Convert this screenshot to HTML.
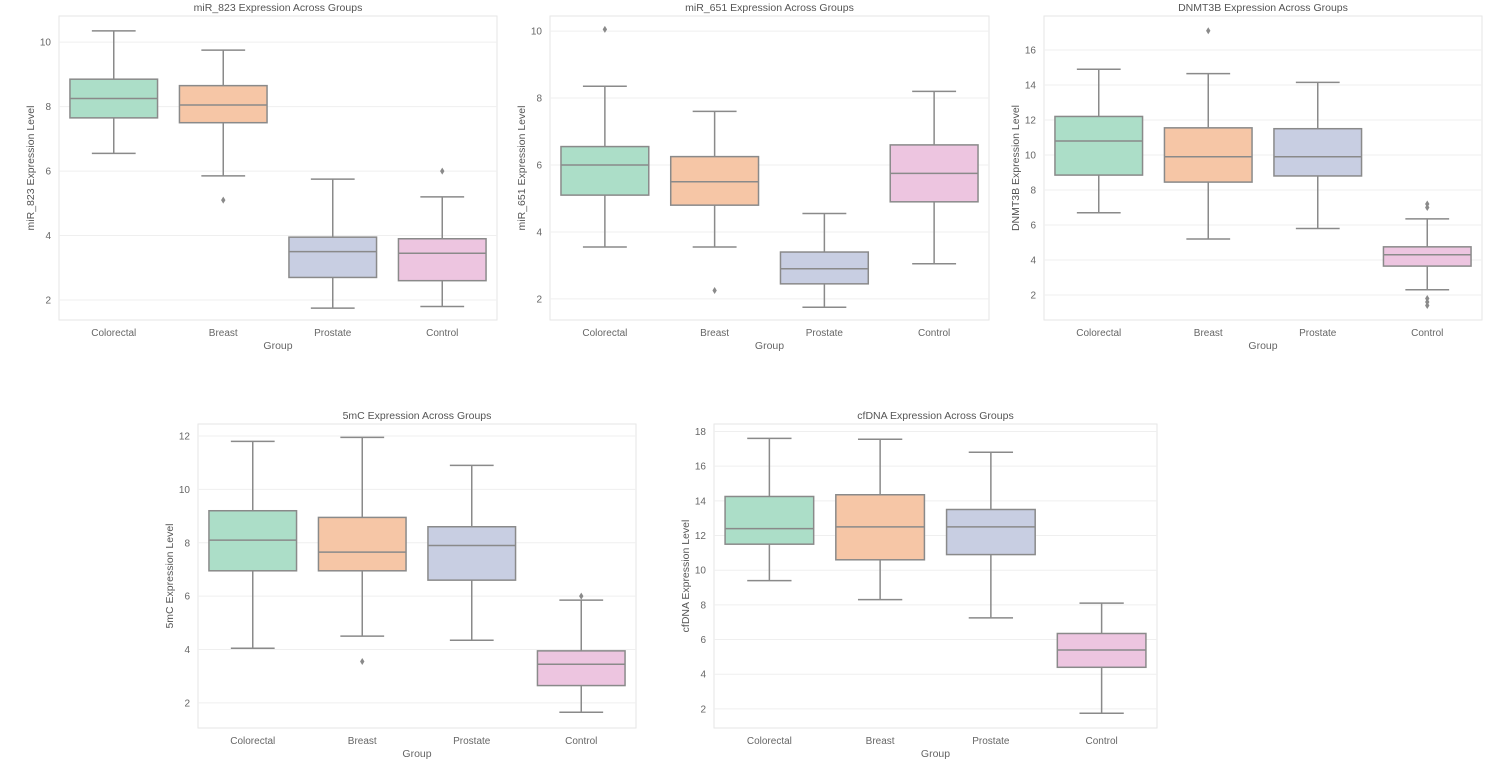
<!DOCTYPE html>
<html><head><meta charset="utf-8">
<style>
html,body{margin:0;padding:0;background:#fff;}
svg{display:block;font-family:"Liberation Sans",sans-serif;}
</style></head>
<body>
<svg id="chart" width="1489" height="777" viewBox="0 0 1489 777"></svg>
<script>
const categories = ["Colorectal","Breast","Prostate","Control"];
const colors = ["#acdec8","#f6c6a6","#c8cee2","#edc5e0"];
// [lowWhisker, q1, median, q3, highWhisker]
const mir823Stats = [[6.55,7.65,8.25,8.85,10.35],[5.85,7.5,8.05,8.65,9.75],[1.75,2.7,3.5,3.95,5.75],[1.8,2.6,3.45,3.9,5.2]];
const mir823Outliers = [[],[5.1],[],[6.0]];
const mir651Stats = [[3.55,5.1,6.0,6.55,8.35],[3.55,4.8,5.5,6.25,7.6],[1.75,2.45,2.9,3.4,4.55],[3.05,4.9,5.75,6.6,8.2]];
const mir651Outliers = [[10.05],[2.25],[],[]];
const dnmt3bStats = [[6.7,8.85,10.8,12.2,14.9],[5.2,8.45,9.9,11.55,14.65],[5.8,8.8,9.9,11.5,14.15],[2.3,3.65,4.3,4.75,6.35]];
const dnmt3bOutliers = [[],[17.1],[],[7.0,7.2,1.4,1.6,1.8]];
const mc5Stats = [[4.05,6.95,8.1,9.2,11.8],[4.5,6.95,7.65,8.95,11.95],[4.35,6.6,7.9,8.6,10.9],[1.65,2.65,3.45,3.95,5.85]];
const mc5Outliers = [[],[3.55],[],[6.0]];
const cfdnaStats = [[9.4,11.5,12.4,14.25,17.6],[8.3,10.6,12.5,14.35,17.55],[7.25,10.9,12.5,13.5,16.8],[1.75,4.4,5.4,6.35,8.1]];
const cfdnaOutliers = [[],[],[],[]];
const mir823Ticks = [2,4,6,8,10];
const mir651Ticks = [2,4,6,8,10];
const dnmt3bTicks = [2,4,6,8,10,12,14,16];
const mc5Ticks = [2,4,6,8,10,12];
const cfdnaTicks = [2,4,6,8,10,12,14,16,18];

const panels = [
 {id:"mir823",title:"miR_823 Expression Across Groups",ylab:"miR_823 Expression Level",x0:59,x1:497,y0:16,y1:320,dom:[1.38,10.81],stats:mir823Stats,out:mir823Outliers,ticks:mir823Ticks},
 {id:"mir651",title:"miR_651 Expression Across Groups",ylab:"miR_651 Expression Level",x0:550,x1:989,y0:16,y1:320,dom:[1.37,10.45],stats:mir651Stats,out:mir651Outliers,ticks:mir651Ticks},
 {id:"dnmt3b",title:"DNMT3B Expression Across Groups",ylab:"DNMT3B Expression Level",x0:1044,x1:1482,y0:16,y1:320,dom:[0.57,17.94],stats:dnmt3bStats,out:dnmt3bOutliers,ticks:dnmt3bTicks},
 {id:"5mc",title:"5mC Expression Across Groups",ylab:"5mC Expression Level",x0:198,x1:636,y0:424,y1:728,dom:[1.06,12.45],stats:mc5Stats,out:mc5Outliers,ticks:mc5Ticks},
 {id:"cfdna",title:"cfDNA Expression Across Groups",ylab:"cfDNA Expression Level",x0:714,x1:1157,y0:424,y1:728,dom:[0.9,18.43],stats:cfdnaStats,out:cfdnaOutliers,ticks:cfdnaTicks}
];
const NS="http://www.w3.org/2000/svg";
const svg=document.getElementById("chart");
function mk(tag,attrs,parent,text){const e=document.createElementNS(NS,tag);for(const k in attrs)e.setAttribute(k,attrs[k]);if(text!==undefined)e.textContent=text;(parent||svg).appendChild(e);return e;}
panels.forEach(p=>{
  const g=mk("g",{});
  
  
  const y=v=>p.y1-(v-p.dom[0])/(p.dom[1]-p.dom[0])*(p.y1-p.y0);
  const bw=(p.x1-p.x0)/categories.length;
  const xc=i=>p.x0+bw*(i+0.5);
  const frame=mk("rect",{x:p.x0,y:p.y0,width:p.x1-p.x0,height:p.y1-p.y0,fill:"#fff",stroke:"#e6e6e6","stroke-width":1},g);
  
  
  p.ticks.forEach(t=>{
    const gl=mk("line",{x1:p.x0,x2:p.x1,y1:y(t),y2:y(t),stroke:"#efefef","stroke-width":1},g);
    
    
    const tl=mk("text",{x:p.x0-8,y:y(t)+3.5,"text-anchor":"end","font-size":10,fill:"#666"},g,String(t));
    
    
  });
  categories.forEach((c,i)=>{
    const s=p.stats[i],cx=xc(i),w=bw*0.8,cap=bw*0.4;
    const bg=mk("g",{},g);
    
    
    const ln={stroke:"#8a8a8a","stroke-width":1.5};
    mk("line",Object.assign({x1:cx,x2:cx,y1:y(s[0]),y2:y(s[1])},ln),bg);
    mk("line",Object.assign({x1:cx,x2:cx,y1:y(s[3]),y2:y(s[4])},ln),bg);
    mk("line",Object.assign({x1:cx-cap/2,x2:cx+cap/2,y1:y(s[0]),y2:y(s[0])},ln),bg);
    mk("line",Object.assign({x1:cx-cap/2,x2:cx+cap/2,y1:y(s[4]),y2:y(s[4])},ln),bg);
    mk("rect",Object.assign({x:cx-w/2,y:y(s[3]),width:w,height:y(s[1])-y(s[3]),fill:colors[i]},ln),bg);
    mk("line",Object.assign({x1:cx-w/2,x2:cx+w/2,y1:y(s[2]),y2:y(s[2])},ln),bg);
    p.out[i].forEach(o=>{
      const d=mk("path",{d:`M${cx},${y(o)-3.5}L${cx+2.2},${y(o)}L${cx},${y(o)+3.5}L${cx-2.2},${y(o)}Z`,fill:"#8a8a8a"},bg);
      
      
    });
    const xl=mk("text",{x:cx,y:p.y1+16,"text-anchor":"middle","font-size":10,fill:"#666"},g,c);
    
    
  });
  const tt=mk("text",{x:(p.x0+p.x1)/2,y:p.y0-5,"text-anchor":"middle","font-size":10.5,fill:"#555"},g,p.title);
  
  
  const xt=mk("text",{x:(p.x0+p.x1)/2,y:p.y1+29,"text-anchor":"middle","font-size":10.5,fill:"#666"},g,"Group");
  
  
  const yx=p.x0-25, yy=(p.y0+p.y1)/2;
  const yt=mk("text",{x:yx,y:yy,"text-anchor":"middle","font-size":10.5,fill:"#555",transform:`rotate(-90 ${yx} ${yy})`},g,p.ylab);
  
  
});
</script>
</body></html>
